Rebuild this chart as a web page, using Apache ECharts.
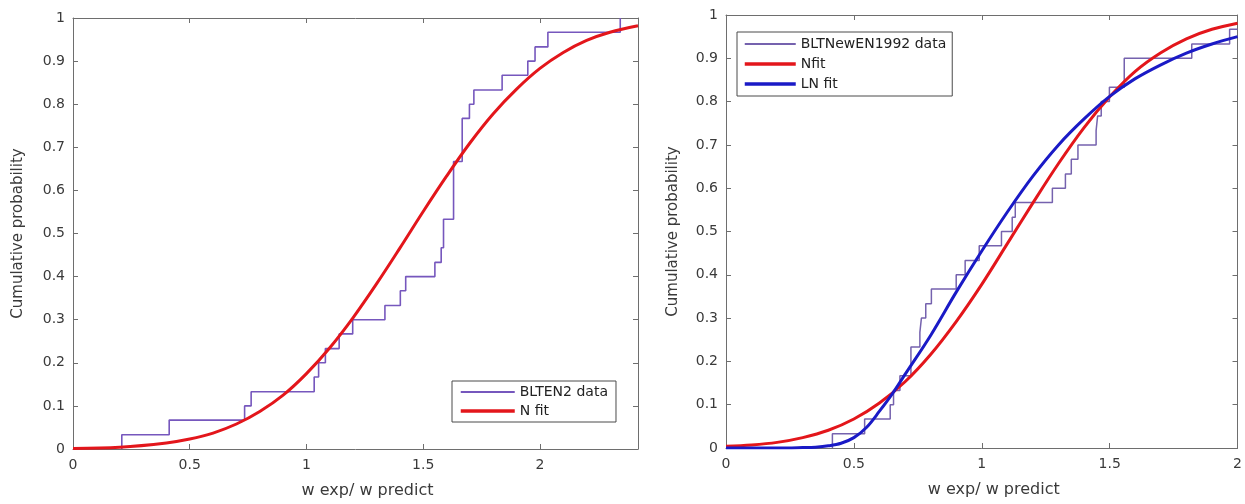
<!DOCTYPE html>
<html>
<head>
<meta charset="utf-8">
<title>Cumulative probability</title>
<script src="https://cdn.jsdelivr.net/npm/echarts@6/dist/echarts.min.js"></script>
<style>
    html, body { margin: 0; padding: 0; background: #fff; }
    #chart { width: 1245px; height: 504px; }
</style>
</head>
<body>
<div id="chart"></div>
<script>
// 左图 BLTEN2 经验分布（台阶位置及累计概率）
var blten2X = [0.209, 0.412, 0.735, 0.763, 1.033, 1.052, 1.081, 1.14, 1.198, 1.336, 1.402, 1.425,
    1.55, 1.577, 1.587, 1.63, 1.667, 1.698, 1.717, 1.838, 1.948, 1.979, 2.034, 2.344];
var blten2Y = [0.033, 0.067, 0.1, 0.133, 0.167, 0.2, 0.233, 0.267, 0.3, 0.333, 0.367, 0.4,
    0.433, 0.467, 0.533, 0.667, 0.767, 0.8, 0.833, 0.867, 0.9, 0.933, 0.967, 1];
// 左图 N fit
var leftNX = [0, 0.2, 0.4, 0.5, 0.6, 0.7, 0.8, 0.9, 1.0, 1.1, 1.2, 1.3, 1.4, 1.5, 1.6, 1.7, 1.8, 1.9, 2.0, 2.1, 2.2, 2.3, 2.42];
var leftNY = [0.001, 0.004, 0.014, 0.023, 0.037, 0.058, 0.087, 0.125, 0.175, 0.235, 0.305, 0.383,
    0.466, 0.551, 0.633, 0.71, 0.778, 0.835, 0.883, 0.92, 0.948, 0.967, 0.982];

// 右图 BLTNewEN1992 经验分布
var newX = [0.416, 0.542, 0.642, 0.655, 0.68, 0.723, 0.758, 0.764, 0.781, 0.803, 0.9, 0.935, 0.99,
    1.077, 1.119, 1.131, 1.276, 1.327, 1.35, 1.376, 1.447, 1.453, 1.467, 1.499, 1.557, 1.821, 1.969, 2.0];
var newY = [0.033, 0.067, 0.1, 0.133, 0.167, 0.233, 0.267, 0.3, 0.333, 0.367, 0.4, 0.433, 0.467,
    0.5, 0.533, 0.567, 0.6, 0.633, 0.667, 0.7, 0.733, 0.767, 0.8, 0.833, 0.9, 0.933, 0.967, 0.967];
// 右图 Nfit
var rightNX = [0, 0.1, 0.2, 0.3, 0.4, 0.5, 0.6, 0.7, 0.8, 0.9, 1.0, 1.1, 1.2, 1.3, 1.4, 1.5, 1.6, 1.7, 1.8, 1.9, 2.0];
var rightNY = [0.004, 0.007, 0.013, 0.024, 0.041, 0.067, 0.104, 0.153, 0.216, 0.292, 0.378, 0.472,
    0.566, 0.657, 0.74, 0.811, 0.87, 0.913, 0.945, 0.967, 0.981];
// 右图 LN fit
var rightLNX = [0, 0.2, 0.3, 0.35, 0.4, 0.45, 0.5, 0.55, 0.6, 0.65, 0.7, 0.8, 0.9, 1.0, 1.1, 1.2, 1.3, 1.4, 1.5, 1.6, 1.7, 1.8, 1.9, 2.0];
var rightLNY = [0, 0, 0.001, 0.002, 0.005, 0.011, 0.024, 0.048, 0.085, 0.125, 0.17, 0.26, 0.36, 0.455, 0.545,
    0.628, 0.7, 0.76, 0.812, 0.853, 0.885, 0.912, 0.933, 0.95];

var yTicks = { min: 0, max: 1, interval: 0.1 };

//简单的深拷贝合并（页面里没有jQuery）
var $ = {
    extend: function (deep, target) {
        for (var a = 2; a < arguments.length; a++) {
            var src = arguments[a];
            for (var k in src) {
                var v = src[k];
                if (v && typeof v === 'object' && !Array.isArray(v)) {
                    target[k] = $.extend(true, target[k] && typeof target[k] === 'object' ? target[k] : {}, v);
                } else {
                    target[k] = Array.isArray(v) ? v.slice() : v;
                }
            }
        }
        return target;
    }
};

//把x,y数组拼成点
function pairs(xs, ys) {
    var out = [];
    for (var i = 0; i < xs.length; i++) {
        out.push([xs[i], ys[i]]);
    }
    return out;
}
//经验分布台阶，从第一个台阶的0开始
function stairs(xs, ys) {
    return [[xs[0], 0]].concat(pairs(xs, ys));
}

var axisColor = '#6e6e6e';
var textColor = '#3a3a3a';
var font = 'DejaVu Sans';

//x轴（下方带文字，上方只有刻度）
function xAxes(gridIndex, max) {
    var base = {
        type: 'value',
        gridIndex: gridIndex,
        min: 0,
        max: max,
        interval: 0.5,
        splitLine: { show: false },
        axisLine: { show: true, onZero: false, lineStyle: { color: axisColor, width: 1 } },
        axisTick: { show: true, inside: true, length: 5, lineStyle: { color: axisColor } }
    };
    var bottom = $.extend(true, {}, base, {
        position: 'bottom',
        name: 'w exp/ w predict',
        nameLocation: 'middle',
        nameGap: 34,
        nameTextStyle: { fontFamily: font, fontSize: 16, color: textColor, padding: [0, 0, 0, 24] },
        axisLabel: { show: true, margin: 9, fontFamily: font, fontSize: 14, color: textColor, showMaxLabel: max === 2 }
    });
    var top = $.extend(true, {}, base, {
        position: 'top',
        axisLabel: { show: false }
    });
    return [bottom, top];
}
//y轴（左边带文字，右边只有刻度）
function yAxes(gridIndex, nameGap) {
    var base = {
        type: 'value',
        gridIndex: gridIndex,
        min: yTicks.min,
        max: yTicks.max,
        interval: yTicks.interval,
        splitLine: { show: false },
        axisLine: { show: true, onZero: false, lineStyle: { color: axisColor, width: 1 } },
        axisTick: { show: true, inside: true, length: 5, lineStyle: { color: axisColor } }
    };
    var left = $.extend(true, {}, base, {
        position: 'left',
        name: 'Cumulative probability',
        nameLocation: 'middle',
        nameGap: nameGap,
        nameTextStyle: { fontFamily: font, fontSize: 15, color: textColor },
        axisLabel: { show: true, margin: 8, fontFamily: font, fontSize: 14, color: textColor }
    });
    var right = $.extend(true, {}, base, {
        position: 'right',
        axisLabel: { show: false }
    });
    return [left, right];
}

var purple = '#7657bd';
var greyPurple = '#7562ae';
var red = '#e3161b';
var blue = '#1a1ac6';

//图例公共样式（只画线，不画圆点）
var legendBase = {
    orient: 'vertical',
    itemHeight: 14,
    borderColor: '#4a4a4a',
    borderWidth: 1,
    backgroundColor: '#fff',
    itemStyle: { opacity: 0 },
    textStyle: { fontFamily: font, fontSize: 14, color: '#222' }
};
//图例项：线宽跟曲线一致
function legendItem(name, width) {
    return { name: name, lineStyle: { width: width } };
}

var myChart = echarts.init(document.getElementById('chart'), null, { renderer: 'canvas' });

var option = {
    backgroundColor: '#fff',
    animation: false,
    grid: [
        { left: 73, top: 18, width: 565, height: 433 },
        { left: 726, top: 15, width: 518, height: 433 }
    ],
    xAxis: xAxes(0, 2.42).concat(xAxes(1, 2)),
    yAxis: yAxes(0, 47).concat(yAxes(1, 45)),
    //图例
    legend: [
        $.extend(true, {}, legendBase, {
            data: [legendItem('BLTEN2 data', 2), legendItem('N fit', 3.5)],
            left: 452,
            top: 381,
            itemWidth: 54,
            itemGap: 5,
            padding: [4, 8, 4, 7]
        }),
        $.extend(true, {}, legendBase, {
            data: [legendItem('BLTNewEN1992 data', 2), legendItem('Nfit', 3.5), legendItem('LN fit', 3.5)],
            left: 737,
            top: 32,
            itemWidth: 51,
            itemGap: 6,
            padding: [5, 6, 5, 6]
        })
    ],
    series: [
        {
            name: 'BLTEN2 data',
            type: 'line',
            xAxisIndex: 0,
            yAxisIndex: 0,
            step: 'end',
            symbol: 'none',
            lineStyle: { color: purple, width: 1.6 },
            itemStyle: { color: purple },
            data: stairs(blten2X, blten2Y),
            z: 2
        },
        {
            name: 'N fit',
            type: 'line',
            xAxisIndex: 0,
            yAxisIndex: 0,
            smooth: 0.35,
            symbol: 'none',
            lineStyle: { color: red, width: 3 },
            itemStyle: { color: red },
            data: pairs(leftNX, leftNY),
            z: 3
        },
        {
            name: 'BLTNewEN1992 data',
            type: 'line',
            xAxisIndex: 2,
            yAxisIndex: 2,
            step: 'end',
            symbol: 'none',
            lineStyle: { color: greyPurple, width: 1.5 },
            itemStyle: { color: greyPurple },
            data: stairs(newX, newY),
            z: 2
        },
        {
            name: 'Nfit',
            type: 'line',
            xAxisIndex: 2,
            yAxisIndex: 2,
            smooth: 0.35,
            symbol: 'none',
            lineStyle: { color: red, width: 3 },
            itemStyle: { color: red },
            data: pairs(rightNX, rightNY),
            z: 3
        },
        {
            name: 'LN fit',
            type: 'line',
            xAxisIndex: 2,
            yAxisIndex: 2,
            smooth: 0.35,
            symbol: 'none',
            lineStyle: { color: blue, width: 3 },
            itemStyle: { color: blue },
            data: pairs(rightLNX, rightLNY),
            z: 4
        }
    ]
};
myChart.setOption(option);
</script>
</body>
</html>
